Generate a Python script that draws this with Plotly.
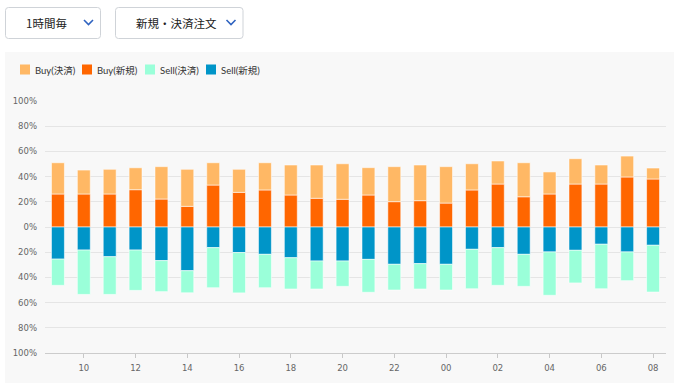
import plotly.graph_objects as go

# ---- data ----
hours = ["09", "10", "11", "12", "13", "14", "15", "16", "17", "18", "19", "20",
         "21", "22", "23", "00", "01", "02", "03", "04", "05", "06", "07", "08"]
tick_hours = ["10", "12", "14", "16", "18", "20", "22", "00", "02", "04", "06", "08"]

buy_new = [26.2, 26.2, 26.2, 29.6, 22.2, 16.4, 33.3, 27.5, 29.4, 25.4, 22.8, 22.0,
           25.4, 20.1, 20.9, 19.0, 29.4, 34.1, 24.0, 26.2, 34.1, 34.1, 39.7, 38.1]
buy_settle = [24.8, 19.0, 19.6, 17.4, 25.7, 29.4, 17.7, 18.3, 21.6, 23.8, 26.4, 28.2,
              21.7, 27.8, 28.3, 28.9, 20.8, 18.3, 27.0, 17.5, 20.1, 15.1, 16.6, 8.7]
sell_new = [25.5, 18.3, 23.6, 18.3, 26.7, 34.7, 16.4, 20.3, 21.7, 24.4, 27.0, 27.0,
            25.7, 29.6, 29.1, 29.6, 17.7, 16.4, 21.7, 19.8, 18.5, 13.7, 19.8, 14.5]
sell_settle = [20.8, 35.2, 29.9, 32.0, 24.6, 17.5, 31.8, 32.0, 26.5, 24.8, 22.2, 20.1,
               26.1, 20.4, 20.1, 20.4, 31.3, 29.9, 25.4, 34.4, 25.9, 35.3, 22.8, 37.1]

y_ticks = [100, 80, 60, 40, 20, 0, -20, -40, -60, -80, -100]
y_labels = [f"{abs(v)}%" for v in y_ticks]

legend_names = ["Buy(決済)", "Buy(新規)", "Sell(決済)", "Sell(新規)"]
dropdown_labels = ["1時間毎", "新規・決済注文"]

# ---- styles ----
C_BUY_SETTLE = "#ffb865"
C_BUY_NEW = "#ff6600"
C_SELL_SETTLE = "#9affd9"
C_SELL_NEW = "#0095c8"

W, H = 680, 387
ML, MR, MT, MB = 45, 14, 101, 34
PW, PH = W - ML - MR, H - MT - MB


def px(x):
    return (x - ML) / PW


def py(y):
    return (H - MB - y) / PH


fig = go.Figure()
edge = dict(color="rgba(255,255,255,0.55)", width=1)
fig.add_bar(x=hours, y=buy_new, name=legend_names[1], marker=dict(color=C_BUY_NEW, line=edge), width=0.5)
fig.add_bar(x=hours, y=buy_settle, name=legend_names[0], marker=dict(color=C_BUY_SETTLE, line=edge), width=0.5)
fig.add_bar(x=hours, y=[-v for v in sell_new], name=legend_names[3], marker=dict(color=C_SELL_NEW, line=edge), width=0.5)
fig.add_bar(x=hours, y=[-v for v in sell_settle], name=legend_names[2], marker=dict(color=C_SELL_SETTLE, line=edge), width=0.5)

shapes = []
annotations = []

# gray panel
shapes.append(dict(type="rect", xref="paper", yref="paper", layer="below",
                   x0=px(5), x1=px(674), y0=py(383), y1=py(52),
                   fillcolor="#f8f8f8", line=dict(width=0)))


# dropdown boxes
def rounded_box(x0, y0, x1, y1, r=3):
    X0, X1 = px(x0), px(x1)
    Y0, Y1 = py(y0), py(y1)
    rx, ry = r / PW, r / PH
    return (f"M{X0+rx},{Y0} L{X1-rx},{Y0} Q{X1},{Y0} {X1},{Y0-ry} "
            f"L{X1},{Y1+ry} Q{X1},{Y1} {X1-rx},{Y1} L{X0+rx},{Y1} "
            f"Q{X0},{Y1} {X0},{Y1+ry} L{X0},{Y0-ry} Q{X0},{Y0} {X0+rx},{Y0} Z")


boxes = [(5.5, 7.5, 100.5, 38.5, 46.5, 88.5), (115.5, 7.5, 243, 38.5, 176, 231)]
for (bx0, by0, bx1, by1, tx, cx), lab in zip(boxes, dropdown_labels):
    shapes.append(dict(type="path", xref="paper", yref="paper", path=rounded_box(bx0, by0, bx1, by1),
                       fillcolor="white", line=dict(color="#cfd3d8", width=1)))
    shapes.append(dict(type="path", xref="paper", yref="paper",
                       path=f"M{px(cx-4.5)},{py(20)} L{px(cx)},{py(24.5)} L{px(cx+4.5)},{py(20)}",
                       line=dict(color="#2f63c0", width=1.6)))
    annotations.append(dict(xref="paper", yref="paper", x=px(tx), y=py(23), text=lab,
                            showarrow=False, xanchor="center", yanchor="middle",
                            font=dict(family="Noto Sans CJK JP", size=11.5, color="#222")))

# custom legend
leg_colors = [C_BUY_SETTLE, C_BUY_NEW, C_SELL_SETTLE, C_SELL_NEW]
leg_x = [20, 82, 145, 206]
for name, col, lx in zip(legend_names, leg_colors, leg_x):
    shapes.append(dict(type="rect", xref="paper", yref="paper",
                       x0=px(lx), x1=px(lx + 10), y0=py(74.5), y1=py(64.5),
                       fillcolor=col, line=dict(width=0)))
    annotations.append(dict(xref="paper", yref="paper", x=px(lx + 13), y=py(70), text=name,
                            showarrow=False, xanchor="left", yanchor="middle",
                            font=dict(family="Lato, Noto Sans CJK JP", size=9.5, color="#333")))

fig.update_layout(
    width=W, height=H,
    margin=dict(l=ML, r=MR, t=MT, b=MB, pad=0),
    barmode="relative",
    bargap=0.5,
    showlegend=False,
    paper_bgcolor="white",
    plot_bgcolor="rgba(0,0,0,0)",
    shapes=shapes,
    annotations=annotations,
    xaxis=dict(
        type="category",
        categoryorder="array", categoryarray=hours,
        tickmode="array", tickvals=tick_hours, ticktext=tick_hours,
        ticks="outside", ticklen=4, tickcolor="#c8c8c8", tickwidth=1,
        showgrid=False, showline=True, linecolor="#cccccc", linewidth=1,
        tickfont=dict(family="DejaVu Sans", size=8.5, color="#666"),
        ticklabelstandoff=3,
        fixedrange=True,
    ),
    yaxis=dict(
        range=[-100, 100],
        tickmode="array", tickvals=y_ticks, ticktext=y_labels,
        showgrid=True, gridcolor="#e5e5e5", gridwidth=1,
        zeroline=False, showline=False,
        tickfont=dict(family="DejaVu Sans", size=8.5, color="#666"),
        ticklabelstandoff=7,
        fixedrange=True,
    ),
)

fig.write_html(
    "out.html",
    config={"displayModeBar": False},
    post_script="document.body.style.margin='0';document.body.style.overflow='hidden';",
)
